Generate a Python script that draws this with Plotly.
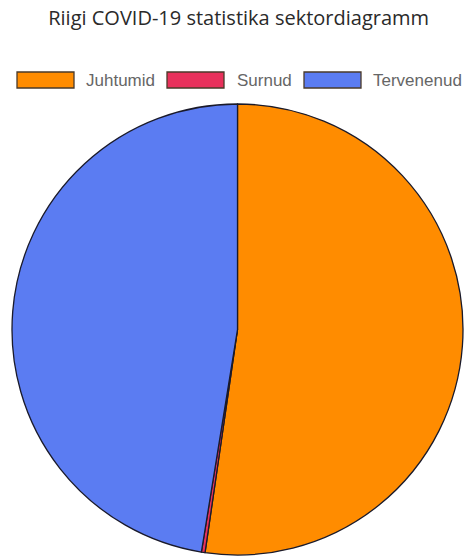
import plotly.graph_objects as go

labels = ["Juhtumid", "Surnud", "Tervenenud"]
values = [130750, 650, 118600]
colors = ["#FF8C00", "#E8315B", "#5B7CF2"]
title_text = "Riigi COVID-19 statistika sektordiagramm"

W, H = 467, 560
ML, MR, MT, MB = 12, 4, 104, 5
PW, PH = W - ML - MR, H - MT - MB

def xp(px):
    return (px - ML) / PW

def yp(py):
    return (H - MB - py) / PH

fig = go.Figure(go.Pie(
    labels=labels,
    values=values,
    marker=dict(colors=colors, line=dict(color="#1a1a2a", width=1.3)),
    sort=False,
    direction="clockwise",
    rotation=0,
    textinfo="none",
    hoverinfo="label+value",
    showlegend=False,
))

# Chart.js-style legend: wide boxes with labels
box_x = [17, 167, 304]
text_x = [84, 235, 371]
shapes = []
annotations = []
for i, lab in enumerate(labels):
    shapes.append(dict(
        type="rect", xref="paper", yref="paper",
        x0=xp(box_x[i]), x1=xp(box_x[i] + 57),
        y0=yp(88), y1=yp(72),
        fillcolor=colors[i], line=dict(color="#4a3a2a", width=1.3),
    ))
    annotations.append(dict(
        text=lab, xref="paper", yref="paper",
        x=xp(text_x[i]), y=yp(80), xanchor="left", yanchor="middle",
        showarrow=False,
        font=dict(family="Liberation Sans, Arial, sans-serif", size=17, color="#666666"),
    ))

fig.update_layout(
    width=W, height=H,
    margin=dict(l=ML, r=MR, t=MT, b=MB, autoexpand=False),
    paper_bgcolor="white",
    plot_bgcolor="white",
    title=dict(
        text=title_text,
        x=0.511, xanchor="center",
        yref="container", y=1 - 18 / H, yanchor="middle",
        font=dict(family="Open Sans, sans-serif", size=20, color="#2a2a2a"),
    ),
    shapes=shapes,
    annotations=annotations,
)

fig.write_html(
    "out.html",
    config={"displayModeBar": False},
    post_script="document.body.style.margin='0';document.body.style.overflow='hidden';",
)
